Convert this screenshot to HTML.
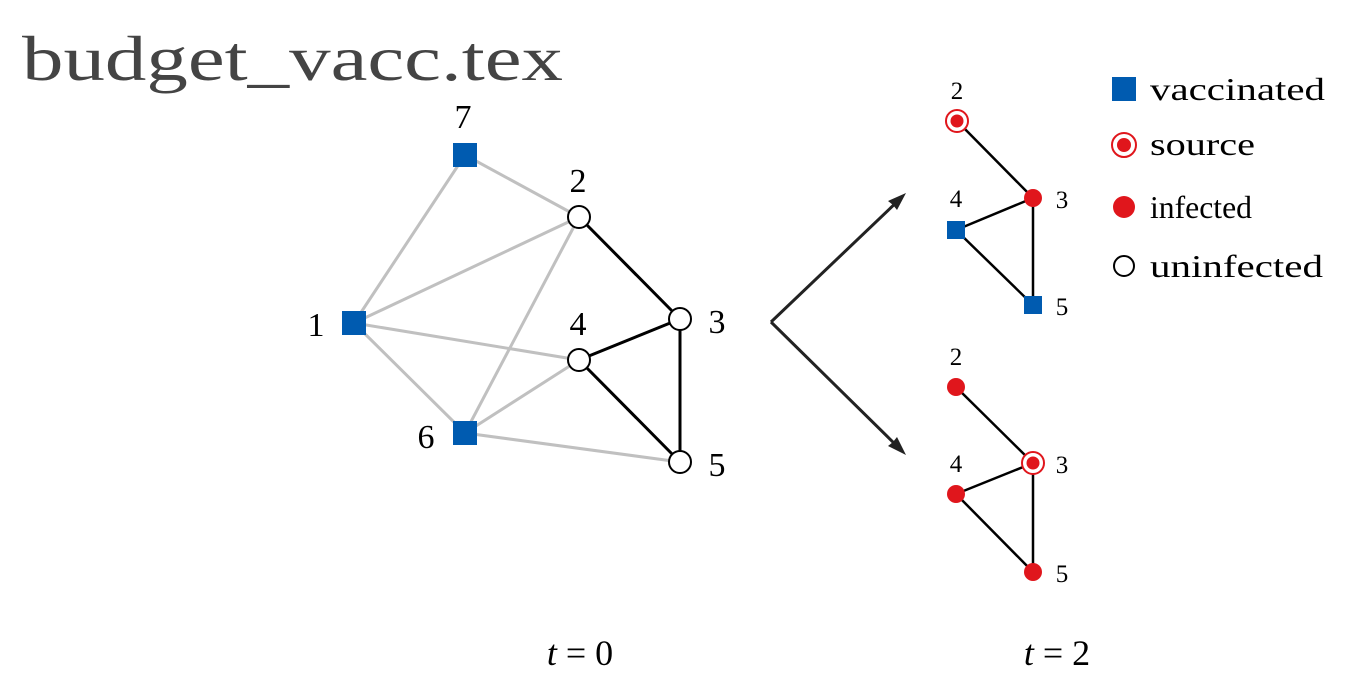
<!DOCTYPE html>
<html><head><meta charset="utf-8"><style>
html,body{margin:0;padding:0;background:#fff;width:1349px;height:688px;overflow:hidden}
svg text{font-family:"Liberation Serif",serif}
</style></head><body>
<svg id="c" width="1349" height="688" viewBox="0 0 1349 688">
<text x="22" y="80" font-size="64" fill="#444" textLength="541" lengthAdjust="spacingAndGlyphs">budget_vacc.tex</text>
<g id="g"></g>
<line x1="771" y1="322" x2="900" y2="199" stroke="#222" stroke-width="3"/>
<path d="M906,193 L888,201 L893,205 L897,210 Z" fill="#222"/>
<line x1="771" y1="322" x2="900" y2="449" stroke="#222" stroke-width="3"/>
<path d="M906,455 L897,437 L893,442 L888,446 Z" fill="#222"/>
<text x="580" y="665" font-size="36" text-anchor="middle"><tspan font-style="italic">t</tspan> = 0</text>
<text x="1057" y="665" font-size="36" text-anchor="middle"><tspan font-style="italic">t</tspan> = 2</text>
<g>
<rect x="1112" y="77" width="24" height="24" fill="#005bb0"/>
<text x="1150" y="100" font-size="32" textLength="175" lengthAdjust="spacingAndGlyphs">vaccinated</text>
<circle cx="1124" cy="145" r="12" fill="#fff" stroke="#e0161c" stroke-width="2"/>
<circle cx="1124" cy="145" r="7" fill="#e0161c"/>
<text x="1150" y="155" font-size="32" textLength="105" lengthAdjust="spacingAndGlyphs">source</text>
<circle cx="1124" cy="207" r="11" fill="#e0161c"/>
<text x="1150" y="218" font-size="32" textLength="102" lengthAdjust="spacingAndGlyphs">infected</text>
<circle cx="1124" cy="266" r="10" fill="#fff" stroke="#000" stroke-width="2"/>
<text x="1150" y="277" font-size="32" textLength="173" lengthAdjust="spacingAndGlyphs">uninfected</text>
</g>
</svg>
<script>
// node data: [id, x, y, type, labelX, labelY]
const leftNodes=[["1",354,323,"vac",316,336],["7",465,155,"vac",463,128],["6",465,433,"vac",426,448],["2",579,217,"un",578,192],["4",579,360,"un",578,335],["3",680,319,"un",717,333],["5",680,462,"un",717,476]];
const leftEdges=[["7","1","gray"],["7","2","gray"],["1","2","gray"],["1","4","gray"],["1","6","gray"],["6","2","gray"],["6","4","gray"],["6","5","gray"],["2","3","black"],["4","3","black"],["4","5","black"],["3","5","black"]];
const topNodes=[["2",957,121,"src",957,99],["3",1033,198,"inf",1062,208],["4",956,230,"vac",956,207],["5",1033,305,"vac",1062,315]];
const botNodes=[["2",956,387,"inf",956,365],["3",1033,463,"src",1062,473],["4",956,494,"inf",956,472],["5",1033,572,"inf",1062,582]];
const smallEdges=[["2","3","black"],["4","3","black"],["4","5","black"],["3","5","black"]];
const NS="http://www.w3.org/2000/svg",g=document.getElementById('g');
function mk(t,a){const e=document.createElementNS(NS,t);for(const k in a)e.setAttribute(k,a[k]);g.appendChild(e);return e;}
function draw(nodes,edges,pref,big){
  const m={};nodes.forEach(n=>m[n[0]]=n);
  edges.forEach(e=>{const a=m[e[0]],b=m[e[1]];
    const l=mk('line',{x1:a[1],y1:a[2],x2:b[1],y2:b[2],stroke:e[2]=="gray"?"#c0c0c0":"#000","stroke-width":big?3:2.5});
    
    });
  nodes.forEach(n=>{let el;const s=big?24:18;
    if(n[3]=="vac")el=mk('rect',{x:n[1]-s/2,y:n[2]-s/2,width:s,height:s,fill:"#005bb0"});
    else if(n[3]=="un")el=mk('circle',{cx:n[1],cy:n[2],r:11,fill:"#fff",stroke:"#000","stroke-width":2});
    else if(n[3]=="inf")el=mk('circle',{cx:n[1],cy:n[2],r:9,fill:"#e0161c"});
    else{el=mk('circle',{cx:n[1],cy:n[2],r:11,fill:"#fff",stroke:"#e0161c","stroke-width":2});
      const c=mk('circle',{cx:n[1],cy:n[2],r:6.5,fill:"#e0161c"});
      
      }
    
    
    const t=mk('text',{x:n[4],y:n[5],"font-size":big?34:25,"text-anchor":"middle"});
    t.textContent=n[0];
    
    });
}
draw(leftNodes,leftEdges,'t0',true);
draw(topNodes,smallEdges,'t2-top',false);
draw(botNodes,smallEdges,'t2-bottom',false);
</script>
</body></html>
